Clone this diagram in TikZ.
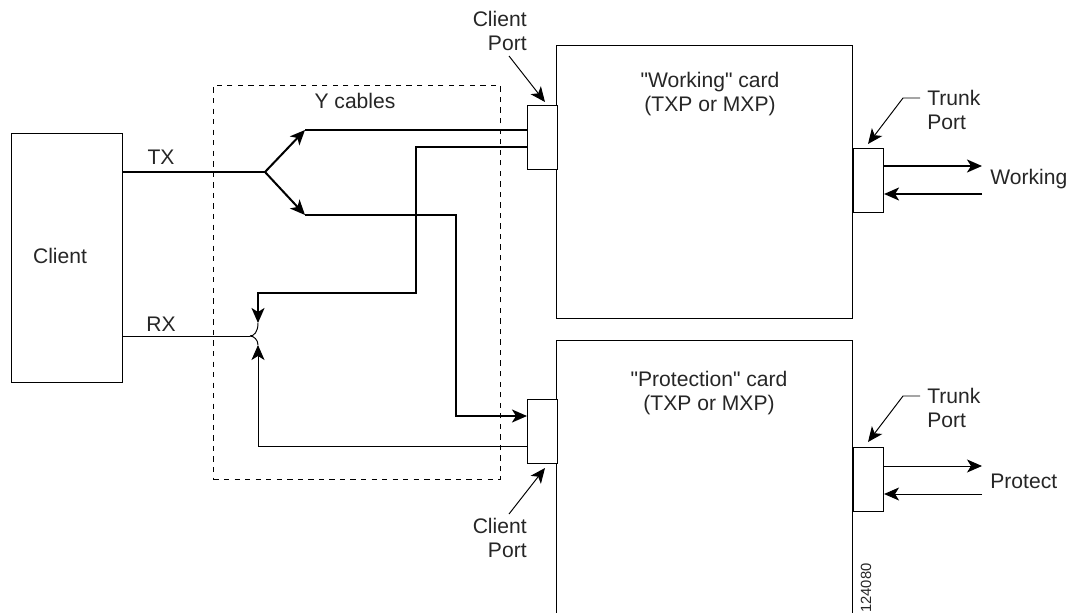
\documentclass[tikz,border=0pt]{standalone}
\usepackage{fontspec}
\newfontfamily\labfont{Liberation Sans}
\usetikzlibrary{arrows.meta,calc,positioning}
\tikzset{
  cardbox/.style={draw, line width=0.6pt, minimum width=5.92cm, anchor=north west, inner sep=0pt},
  portbox/.style={draw, line width=0.6pt, fill=white, minimum width=0.6cm, minimum height=1.28cm, anchor=north west, inner sep=0pt},
  lab/.style={font=\labfont\fontsize{12}{13.2}\selectfont, text=black!85, inner sep=0pt, align=center},
  thickwire/.style={line width=1.15pt},
  thinwire/.style={line width=0.55pt},
  tipped/.style={-{Stealth[length=0.3cm, width=0.26cm, inset=0.08cm]}},
  leader/.style={line width=0.55pt, tipped}
}
\begin{document}
\begin{tikzpicture}[x=0.02cm, y=-0.02cm]
    \path[use as bounding box, clip] (0, 0) rectangle (1071, 612);

    \node[draw, line width=0.6pt, anchor=north west, minimum width=2.22cm, minimum height=4.98cm, inner sep=0pt] (client) at (11, 133) {};
    \node[lab] (clientlab) at (60, 256) {Client};

    \node[draw, dashed, line width=0.5pt, anchor=north west, minimum width=5.74cm, minimum height=7.88cm, inner sep=0pt] (ybox) at (213, 85) {};
    \node[lab] (ylab) at (355, 101) {Y cables};

    \node[cardbox, minimum height=5.46cm] (workcard) at (556, 45) {};
    \node[cardbox, minimum height=6cm] (protcard) at (556, 340) {};
    \node[lab] (worklab) at (710, 94) {"Working" card\\(TXP or MXP)};
    \node[lab] (protlab) at (709, 393) {"Protection" card\\(TXP or MXP)};

    \node[portbox] (workin) at (527, 105) {};
    \node[portbox] (protin) at (527, 399) {};
    \node[portbox] (workout) at (853, 148) {};
    \node[portbox] (protout) at (853, 447) {};

    % coordinates for the wires
    \coordinate (fork) at (265, 172);
    \coordinate (upper) at (305, 130);
    \coordinate (lower) at (305, 215);
    \coordinate (merge) at (250, 336);
    \coordinate (rxtop) at (258, 323);
    \coordinate (rxbot) at (258, 345);
    \coordinate (workend) at (982, 166);
    \coordinate (workback) at (982, 194);
    \coordinate (protend) at (982, 466);
    \coordinate (protback) at (982, 494);

    \draw[thickwire] (client.east |- fork) -- (fork);
    \draw[thickwire, tipped] (fork) -- (upper);
    \draw[thickwire, tipped] (fork) -- (lower);
    \draw[thickwire] (upper) -- (workin.west |- upper);
    \draw[thickwire, tipped] (lower) -| (456, 416) -- (protin.west |- 0, 416);
    \draw[thickwire, tipped] (workin.west |- 0, 147) -| (416, 293) -| (rxtop);
    \draw[thinwire, tipped] (protin.west |- 0, 446) -| (rxbot);
    \draw[thinwire] (client.east |- merge) -- (merge);
    \draw[thinwire] (merge) .. controls (254, 336) and (258, 332) .. (rxtop);
    \draw[thinwire] (merge) .. controls (254, 336) and (258, 340) .. (rxbot);

    \draw[thickwire, tipped] (workout.east |- workend) -- (workend);
    \draw[thickwire, tipped] (workback) -- (workout.east |- workback);
    \draw[thinwire, tipped] (protout.east |- protend) -- (protend);
    \draw[thinwire, tipped] (protback) -- (protout.east |- protback);

    \node[lab] (tx) at (161, 157) {TX};
    \node[lab] (rx) at (161, 324) {RX};
    \node[lab, align=right, anchor=east] (cptop) at (527, 31) {Client\\Port};
    \node[lab, align=right, anchor=east] (cpbot) at (527, 538) {Client\\Port};
    \node[lab, align=left, anchor=west] (tptop) at (927, 110) {Trunk\\Port};
    \node[lab, align=left, anchor=west] (tpbot) at (927, 408) {Trunk\\Port};
    \node[lab, anchor=west] (worklbl) at (990, 179) {Working};
    \node[lab, anchor=west] (protlbl) at (990, 481) {Protect};
    \node[lab, rotate=90, font=\labfont\fontsize{8.4}{9}\selectfont, anchor=west] (fignum) at (866, 613) {124080};

    \draw[leader] (509, 56) -- (545, 102);
    \draw[leader] (509, 514) -- (545, 468);
    \draw[leader] (920, 98) -- (903, 98) -- (868, 144);
    \draw[leader] (920, 396) -- (903, 396) -- (868, 442);
\end{tikzpicture}
\end{document}
